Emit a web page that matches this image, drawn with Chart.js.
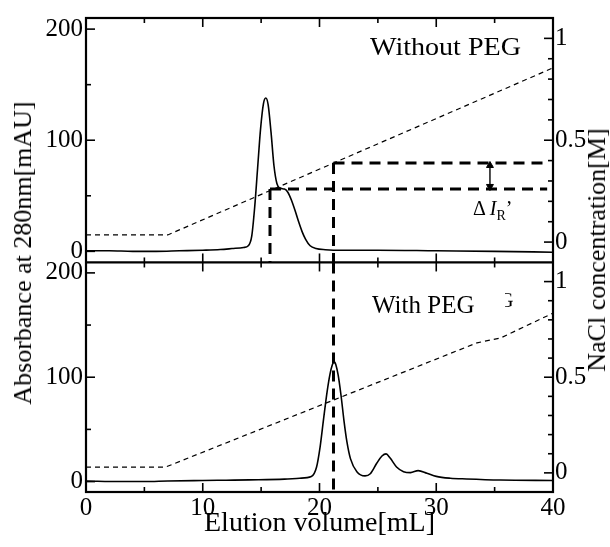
<!DOCTYPE html>
<html>
<head>
<meta charset="utf-8">
<script src="https://cdn.jsdelivr.net/npm/chart.js@4/dist/chart.umd.min.js"></script>
<style>
html,body{margin:0;padding:0;background:#fff}
#wrap{position:relative;width:610px;height:547px;overflow:hidden;font-family:"Liberation Serif",serif;color:#000}
#wrap canvas{position:absolute;left:0;top:0}
.lbl{position:absolute;white-space:nowrap;line-height:1;font-size:26px}
.vt{transform:translate(-50%,-50%) rotate(-90deg)}
</style>
</head>
<body>
<div id="wrap">
  <canvas id="elutionChart" width="610" height="547"></canvas>
  <div class="lbl vt" style="left:23px;top:253px">Absorbance at 280nm[mAU]</div>
  <div class="lbl vt" style="left:597px;top:250px">NaCl concentration[M]</div>
  <div class="lbl" style="left:370px;top:34px;transform:scaleX(1.08);transform-origin:0 0">Without PEG</div>
  <div class="lbl" style="left:372px;top:292px;font-size:25px">With PEG</div>
  <div class="lbl" style="left:473px;top:198px;font-size:20px">Δ <i>I</i><span style="font-size:14px;position:relative;top:5px">R</span>’</div>
  <div class="lbl" style="left:505px;top:290px;width:8px;height:18px;overflow:hidden;font-size:20px"><span style="margin-left:-6px">G</span></div>
</div>
<script>
// elution volume (mL) / absorbance (mAU)
const volNoPeg = [0, 2, 4, 6, 8, 10, 11.5, 12.5, 13.5, 13.9, 14.2, 14.45, 14.7, 14.95, 15.2, 15.4, 15.6, 15.85, 16.1, 16.35, 16.6, 17.0, 17.3, 17.6, 17.9, 18.2, 18.5, 18.8, 19.2, 19.7, 20.5, 22, 25, 30, 35, 40];
const absNoPeg = [0.5, 0.5, 0, 0, 0.5, 1, 1.6, 2.5, 3.5, 5, 14, 40, 75, 110, 133, 138, 132, 107, 77, 61, 57, 56, 53, 46, 37, 27, 18, 11, 5, 2.5, 1.5, 1, 1, 0.5, 0, -0.8];

const volPeg = [0, 3, 5, 7, 10, 12, 14, 17, 18.3, 19.3, 19.75, 20.05, 20.35, 20.65, 20.9, 21.1, 21.25, 21.4, 21.6, 21.85, 22.1, 22.35, 22.65, 23.2, 23.9, 24.35, 24.9, 25.35, 25.7, 26.05, 26.6, 27.2, 27.8, 28.45, 29.2, 30, 31.2, 32.6, 35.5, 40];
const absPeg = [0.5, 0, 0, 0.5, 1, 1.3, 1.6, 2.3, 3.2, 4.8, 14, 33, 60, 86, 103, 112, 115, 112, 102, 82, 58, 38, 22, 9.5, 5.5, 7.5, 17.5, 24.5, 26.5, 22.5, 14, 9.5, 8.6, 10.5, 8, 5, 3.2, 2.5, 1.5, 1];

// NaCl gradient (M)
const naclVolNoPeg = [0, 7, 40];
const naclNoPeg = [0.035, 0.035, 0.855];
const naclVolPeg = [0, 6.8, 33.5, 35.5, 40];
const naclPeg = [0.03, 0.03, 0.68, 0.705, 0.835];

// guide lines: peak volumes and NaCl at elution
const peakVolNoPeg = 15.76, peakVolPeg = 21.2;
const elutionNaclNoPeg = 0.261, elutionNaclPeg = 0.388;
const guideEndVol = 39.5;
const arrowVol = 34.6;

const xTicks = [0, 10, 20, 30, 40];
const absTicks = [0, 100, 200];
const naclTicks = [0, 0.5, 1];

Chart.defaults.font.family = '"Liberation Serif", serif';
Chart.defaults.color = '#000';

const pts = (xs, ys) => xs.map((x, i) => ({x, y: ys[i]}));

const solid = {borderColor:'#000', borderWidth:1.6, pointRadius:0, cubicInterpolationMode:'monotone'};
const thinDash = {borderColor:'#000', borderWidth:1.2, borderDash:[5,4], pointRadius:0, tension:0};
const thickDash = {borderColor:'#000', borderWidth:3, borderDash:[11,7], pointRadius:0, tension:0};

const leftAxis = {
  type:'linear', position:'left', min:-10, max:210,
  afterBuildTicks: s => { s.ticks = absTicks.map(v => ({value:v})); },
  afterFit: s => { s.width = 86; },
  ticks:{font:{size:25}, padding:3},
  grid:{display:false, drawTicks:false},
  border:{display:false}
};
const rightAxis = {
  type:'linear', position:'right', min:-0.1, max:1.1,
  afterBuildTicks: s => { s.ticks = naclTicks.map(v => ({value:v})); },
  afterFit: s => { s.width = 57; },
  ticks:{font:{size:25}, padding:2, callback: v => String(v)},
  grid:{display:false, drawTicks:false},
  border:{display:false}
};

/* frame + inward ticks */
const frame = {
  id:'frame',
  afterDatasetsDraw(chart){
    const {ctx, chartArea:a, scales:s} = chart;
    const mid = s.yT.bottom;
    const tick = (x1,y1,x2,y2) => { ctx.beginPath(); ctx.moveTo(x1,y1); ctx.lineTo(x2,y2); ctx.stroke(); };
    ctx.save();
    ctx.strokeStyle = '#000';
    ctx.lineWidth = 2.2;
    ctx.strokeRect(a.left, a.top, a.right - a.left, a.bottom - a.top);
    tick(a.left, mid, a.right, mid);
    ctx.lineWidth = 1.6;
    for(let v = 0; v <= 40; v += 5){
      const x = s.x.getPixelForValue(v), len = v % 10 === 0 ? 9 : 5;
      tick(x, a.top, x, a.top + len);
      tick(x, mid - len, x, mid + len);
      tick(x, a.bottom - len, x, a.bottom);
    }
    ['yT','yB'].forEach(id => {
      for(let v = 0; v <= 200; v += 50){
        const y = s[id].getPixelForValue(v), len = v % 100 === 0 ? 9 : 5;
        tick(a.left, y, a.left + len, y);
      }
    });
    ['rT','rB'].forEach(id => {
      for(let i = 0; i <= 10; i++){
        const y = s[id].getPixelForValue(i / 10), len = i % 5 === 0 ? 9 : 5;
        tick(a.right - len, y, a.right, y);
      }
    });
    ctx.restore();
  }
};

new Chart(document.getElementById('elutionChart'), {
  type:'line',
  data:{
    datasets:[
      {...solid, data:pts(volNoPeg, absNoPeg), yAxisID:'yT'},
      {...solid, data:pts(volPeg, absPeg), yAxisID:'yB'},
      {...thinDash, data:pts(naclVolNoPeg, naclNoPeg), yAxisID:'rT'},
      {...thinDash, data:pts(naclVolPeg, naclPeg), yAxisID:'rB'},
      {...thickDash, data:pts([peakVolPeg, guideEndVol], [elutionNaclPeg, elutionNaclPeg]), yAxisID:'rT'},
      {...thickDash, data:pts([peakVolNoPeg, guideEndVol], [elutionNaclNoPeg, elutionNaclNoPeg]), yAxisID:'rT'},
      {...thickDash, data:pts([peakVolNoPeg, peakVolNoPeg], [elutionNaclNoPeg, -0.1]), yAxisID:'rT'},
      {...thickDash, data:pts([peakVolPeg, peakVolPeg], [elutionNaclPeg, -0.1]), yAxisID:'rT'},
      {...thickDash, data:pts([peakVolPeg, peakVolPeg], [210, -10]), yAxisID:'yB'},
      {borderColor:'#000', borderWidth:1.4, tension:0,
       data:pts([arrowVol, arrowVol], [elutionNaclPeg - 0.012, elutionNaclNoPeg + 0.012]), yAxisID:'rT',
       pointStyle:'triangle', pointRadius:4, rotation:[0, 180],
       pointBackgroundColor:'#000', pointBorderColor:'#000', pointBorderWidth:1}
    ]
  },
  options:{
    responsive:false,
    animation:false,
    layout:{padding:{top:15}},
    plugins:{legend:{display:false}, tooltip:{enabled:false}},
    scales:{
      x:{
        type:'linear', position:'bottom', min:0, max:40,
        afterBuildTicks: s => { s.ticks = xTicks.map(v => ({value:v})); },
        afterFit: s => { s.height = 55; },
        ticks:{font:{size:25}, padding:1, maxRotation:0},
        grid:{display:false, drawTicks:false},
        border:{display:false},
        title:{display:true, text:'Elution volume[mL]', font:{size:28}, padding:{top:0, bottom:7}}
      },
      yB:{...leftAxis, stack:'left', stackWeight:231},
      yT:{...leftAxis, stack:'left', stackWeight:246},
      rT:{...rightAxis, stack:'right', stackWeight:246},
      rB:{...rightAxis, stack:'right', stackWeight:231}
    }
  },
  plugins:[frame]
});
</script>
</body>
</html>
